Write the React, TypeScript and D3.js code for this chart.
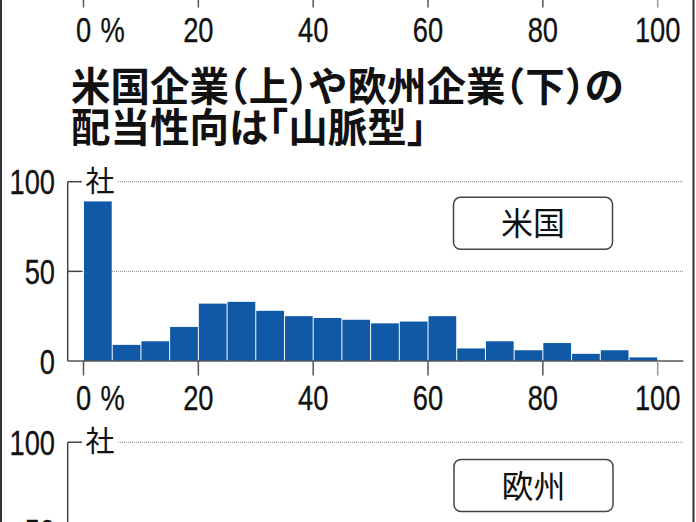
import React from "react";
import * as d3 from "d3";

// ---- data ----
const binStarts = [0, 5, 10, 15, 20, 25, 30, 35, 40, 45, 50, 55, 60, 65, 70, 75, 80, 85, 90, 95];
const binWidth = 5;
const usCounts = [89, 9, 11, 19, 32, 33, 28, 25, 24, 23, 21, 22, 25, 7, 11, 6, 10, 4, 6, 2];
const xTicks = [0, 20, 40, 60, 80, 100];
const xTickLabels = ["0", "20", "40", "60", "80", "100"];
const yTicks = [0, 50, 100];
const yTickLabels = ["0", "50", "100"];
const titleLines = ["米国企業（上）や欧州企業（下）の", "配当性向は「山脈型」"];
const unitLabel = "社";
const percentLabel = "%";
const usLabel = "米国";
const euLabel = "欧州";

const W = 696;
const H = 522;
const NUM_FONT = "'Liberation Sans', Arial, sans-serif";
const JP_FONT = "'Noto Sans CJK JP', 'Noto Sans', sans-serif";
const NUM_SIZE = 35;
const NUM_SX = 0.78;

const x = d3.scaleLinear().domain([0, 100]).range([83.5, 657.7]);
const AXIS_X = 67.7;
const AXIS_RIGHT = 683.3;
const UNIT_PX = 179.3; // 100 units

function yScale(base: number) {
  return d3.scaleLinear().domain([0, 100]).range([base, base - UNIT_PX]);
}

function NumText({ x: tx, y: ty, anchor, children }: { x: number; y: number; anchor: string; children: React.ReactNode }) {
  return (
    <text
      transform={`translate(${tx},${ty}) scale(${NUM_SX},1)`}
      textAnchor={anchor}
      fontFamily={NUM_FONT}
      fontSize={NUM_SIZE}
      fill="#111"
      stroke="#111"
      strokeWidth={0.3}
    >
      {children}
    </text>
  );
}

function XAxis({ base }: { base: number }) {
  return (
    <g>
      <line x1={AXIS_X} x2={AXIS_RIGHT} y1={base} y2={base} stroke="#555" strokeWidth={1.5} />
      {xTicks.map((t, i) => (
        <line key={"t" + t} x1={x(t)} x2={x(t)} y1={base} y2={base + 14.5} stroke={i === xTicks.length - 1 ? "#999" : "#555"} strokeWidth={1.5} />
      ))}
      {xTicks.map((t, i) => (
        <NumText key={"l" + t} x={x(t)} y={base + 48.5} anchor="middle">
          {xTickLabels[i]}
        </NumText>
      ))}
      <NumText x={100.5} y={base + 48.5} anchor="start">
        {percentLabel}
      </NumText>
    </g>
  );
}

function YFrame({ base, bottom }: { base: number; bottom: number }) {
  const y = yScale(base);
  return (
    <g>
      {/* gridlines */}
      <line x1={118} x2={AXIS_RIGHT} y1={y(100)} y2={y(100)} stroke="#8a8a8a" strokeWidth={1} strokeDasharray="1 1" />
      <line x1={82} x2={AXIS_RIGHT} y1={y(50)} y2={y(50)} stroke="#8a8a8a" strokeWidth={1} strokeDasharray="1 1" />
      {/* y axis */}
      <line x1={AXIS_X} x2={AXIS_X} y1={y(100)} y2={bottom} stroke="#444" strokeWidth={1.5} />
      {[100, 50].map((t) => (
        <line key={t} x1={AXIS_X} x2={82} y1={y(t)} y2={y(t)} stroke="#444" strokeWidth={1.5} />
      ))}
      {yTicks.map((t, i) => (
        <NumText key={t} x={55} y={y(t) + 12.5} anchor="end">
          {yTickLabels[i]}
        </NumText>
      ))}
      <text x={100} y={y(100) + 10} textAnchor="middle" fontFamily={JP_FONT} fontSize={29} fill="#111">
        {unitLabel}
      </text>
    </g>
  );
}

function LabelBox({ x0, y0, label }: { x0: number; y0: number; label: string }) {
  const w = 159;
  const h = 52;
  return (
    <g>
      <rect x={x0} y={y0} width={w} height={h} rx={7} ry={7} fill="#fff" stroke="#444" strokeWidth={1.5} />
      <text x={x0 + w / 2} y={y0 + h / 2 + 12} textAnchor="middle" fontFamily={JP_FONT} fontSize={32} fill="#111">
        {label}
      </text>
    </g>
  );
}

export default function App() {
  const usBase = 361;
  const yUS = yScale(usBase);
  const prevBase = -7;
  const euBase = usBase + 260.5;

  return (
    <svg width={W} height={H} viewBox={`0 0 ${W} ${H}`} style={{ position: "absolute", left: 0, top: 0, background: "#fff" }}>
      <rect x={0} y={0} width={W} height={H} fill="#fff" />

      {/* previous chart's x axis (cut off at top) */}
      <XAxis base={prevBase} />

      {/* title */}
      {titleLines.map((t, i) => (
        <text
          key={i}
          x={71}
          y={100.5 + i * 41}
          fontFamily={JP_FONT}
          fontWeight={700}
          fontSize={39.5}
          fill="#111"
          style={{ fontFeatureSettings: '"halt"' }}
        >
          {t}
        </text>
      ))}

      {/* US panel */}
      <YFrame base={usBase} bottom={usBase} />
      {usCounts.map((v, i) => (
        <rect
          key={i}
          x={x(binStarts[i]) + 0.5}
          y={yUS(v)}
          width={x(binStarts[i] + binWidth) - x(binStarts[i]) - 1}
          height={yUS(0) - yUS(v)}
          fill="#0f59a6"
        />
      ))}
      <XAxis base={usBase} />
      <LabelBox x0={453.5} y0={197.3} label={usLabel} />

      {/* Europe panel (top part only) */}
      <YFrame base={euBase} bottom={H + 10} />
      <LabelBox x0={454} y0={459.5} label={euLabel} />

      {/* frame borders */}
      <line x1={1} x2={1} y1={0} y2={H} stroke="#333" strokeWidth={2} />
      <line x1={693.5} x2={693.5} y1={0} y2={H} stroke="#333" strokeWidth={2} />
    </svg>
  );
}
